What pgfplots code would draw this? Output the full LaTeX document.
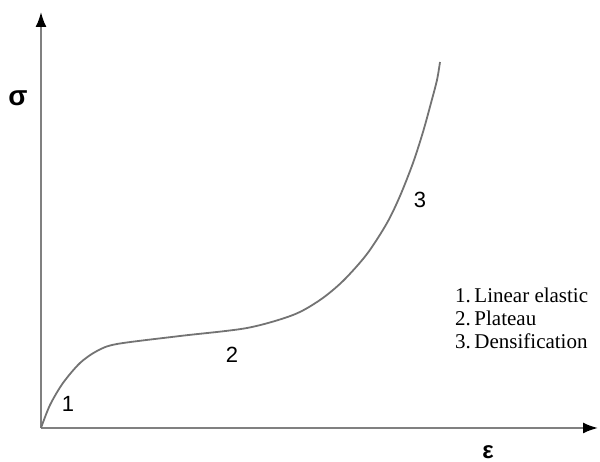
\documentclass[border=0pt]{standalone}
\usepackage{pgfplots}
\pgfplotsset{compat=1.18}
\usetikzlibrary{arrows.meta}
\usepackage{fontspec}
\setmainfont{Liberation Serif}
\newfontfamily\sansf{Liberation Sans}
\begin{document}
\begin{tikzpicture}
\useasboundingbox (-41pt,-34pt) rectangle (559pt,428pt);
\begin{axis}[
  scale only axis, width=557pt, height=416pt,
  xmin=0, xmax=557, ymin=0, ymax=416,
  axis lines=left,
  axis line style={draw=gray, line width=2pt, -{Latex[length=15pt,width=11pt,black]}},
  xtick=\empty, ytick=\empty,
  clip=false,
]
\addplot[smooth, draw=gray!90!black, line width=1.8pt] coordinates {
(0,0) (9,23) (22,45) (39,65) (56,77) (76,84) (139,92) (206,100) (252,113)
(279,128) (302,147) (326,174) (346,205) (359,232) (372,265) (382,296) (390,325) (396,348) (399,366)
};
\node[font=\sansf\fontsize{22}{24}\selectfont] at (axis cs:27,24) {1};
\node[font=\sansf\fontsize{22}{24}\selectfont] at (axis cs:191,73) {2};
\node[font=\sansf\fontsize{22}{24}\selectfont] at (axis cs:379,228) {3};
\node[font=\sansf\bfseries\fontsize{28}{30}\selectfont] at (axis cs:-23,330) {σ};
\node[font=\sansf\bfseries\fontsize{24}{26}\selectfont] at (axis cs:447,-24) {ε};
\node[anchor=west, inner sep=0pt, font=\fontsize{21}{23}\selectfont] at (axis cs:414,133) {1.\,Linear elastic};
\node[anchor=west, inner sep=0pt, font=\fontsize{21}{23}\selectfont] at (axis cs:414,110) {2.\,Plateau};
\node[anchor=west, inner sep=0pt, font=\fontsize{21}{23}\selectfont] at (axis cs:414,87) {3.\,Densification};
\end{axis}
\end{tikzpicture}
\end{document}
